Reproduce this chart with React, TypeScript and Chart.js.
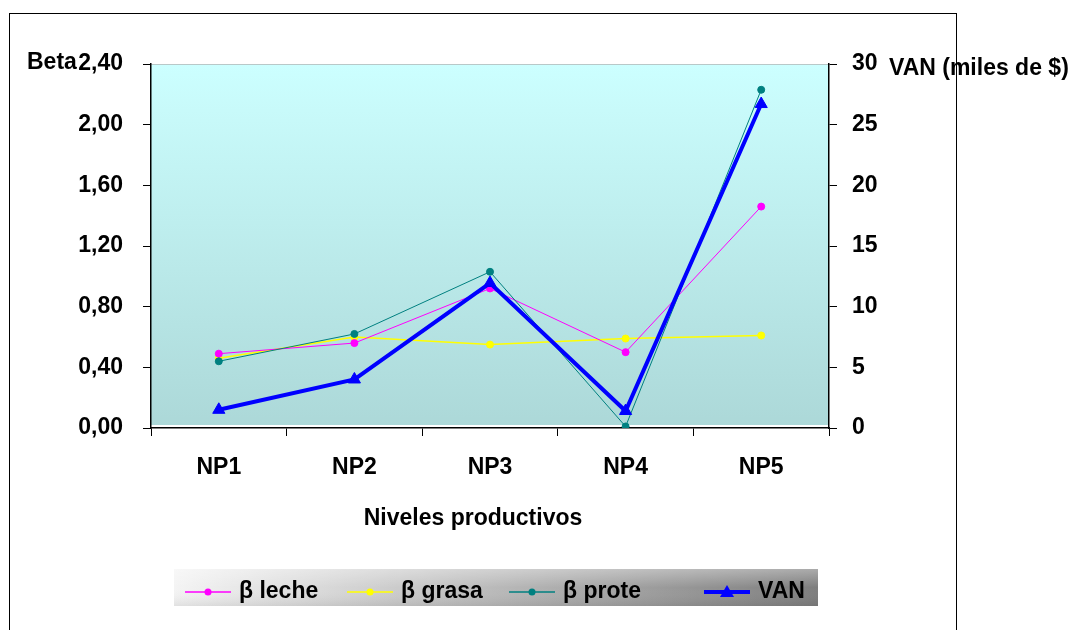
import React, { useEffect, useRef } from "react";
import { Chart, registerables } from "chart.js";

Chart.register(...registerables);

// ---- data ----
const categories = ["NP1", "NP2", "NP3", "NP4", "NP5"];
const betaLeche = [0.49, 0.56, 0.92, 0.5, 1.46];
const betaGrasa = [0.46, 0.6, 0.55, 0.59, 0.61];
const betaProte = [0.44, 0.62, 1.03, 0.01, 2.23];
const vanValues = [1.5, 4.0, 11.95, 1.4, 26.7];
const seriesLabels = ["β leche", "β grasa", "β prote", "VAN"];
const betaTicks = [0, 0.4, 0.8, 1.2, 1.6, 2.0, 2.4];
const vanTicks = [0, 5, 10, 15, 20, 25, 30];
const leftTitle = "Beta";
const rightTitle = "VAN (miles de $)";
const xTitle = "Niveles productivos";

const FONT = "'Liberation Sans', Arial, sans-serif";
const FS = 23;

// legend layout (positions only)
const legendLineStart = [185, 347, 509, 704];

const decorPlugin = {
  id: "decor",
  beforeDraw(chart: any) {
    const { ctx, chartArea } = chart;
    const { left, top, right, bottom } = chartArea;
    ctx.save();
    // white page
    ctx.fillStyle = "#ffffff";
    ctx.fillRect(0, 0, chart.width, chart.height);
    // outer border
    ctx.strokeStyle = "#000000";
    ctx.lineWidth = 1;
    ctx.strokeRect(9.5, 13.5, 947, 640);
    // plot gradient
    const g = ctx.createLinearGradient(0, top, 0, bottom);
    g.addColorStop(0, "#ccffff");
    g.addColorStop(1, "#acd8d8");
    ctx.fillStyle = g;
    ctx.fillRect(left, top, right - left, bottom - top);
    ctx.strokeStyle = "#b8c8c8";
    ctx.beginPath();
    ctx.moveTo(left, top + 0.5);
    ctx.lineTo(right, top + 0.5);
    ctx.stroke();
    ctx.strokeStyle = "#ffffff";
    ctx.lineWidth = 2;
    ctx.beginPath();
    ctx.moveTo(left, bottom - 2);
    ctx.lineTo(right, bottom - 2);
    ctx.stroke();
    ctx.restore();
  },
  afterDraw(chart: any) {
    const { ctx, chartArea } = chart;
    ctx.save();
    ctx.fillStyle = "#000000";
    ctx.font = `bold ${FS}px ${FONT}`;
    ctx.textBaseline = "middle";
    // axis titles
    ctx.textAlign = "left";
    ctx.fillText(leftTitle, 27, chartArea.top - 1);
    ctx.fillText(rightTitle, 889, chartArea.top + 5);
    ctx.textAlign = "center";
    ctx.fillText(xTitle, 473, 519);

    // legend box
    const bx = 174, by = 569, bw = 644, bh = 37;
    const lg = ctx.createLinearGradient(bx, 0, bx + bw, 0);
    lg.addColorStop(0, "#f4f4f4");
    lg.addColorStop(1, "#7e7e7e");
    ctx.fillStyle = lg;
    ctx.fillRect(bx, by, bw, bh);
    const vg = ctx.createLinearGradient(0, by, 0, by + bh);
    vg.addColorStop(0, "rgba(255,255,255,0.35)");
    vg.addColorStop(0.5, "rgba(255,255,255,0)");
    vg.addColorStop(1, "rgba(0,0,0,0.08)");
    ctx.fillStyle = vg;
    ctx.fillRect(bx, by, bw, bh);

    const ly = 592;
    chart.data.datasets.forEach((ds: any, i: number) => {
      const x0 = legendLineStart[i];
      ctx.strokeStyle = ds.borderColor;
      ctx.lineWidth = ds.borderWidth === 1 ? 1.5 : ds.borderWidth;
      ctx.beginPath();
      ctx.moveTo(x0, ly);
      ctx.lineTo(x0 + 46, ly);
      ctx.stroke();
      ctx.fillStyle = ds.borderColor;
      const cx = x0 + 23;
      if (ds.pointStyle === "triangle") {
        ctx.beginPath();
        ctx.moveTo(cx, ly - 7);
        ctx.lineTo(cx + 7, ly + 5);
        ctx.lineTo(cx - 7, ly + 5);
        ctx.closePath();
        ctx.fill();
      } else {
        ctx.beginPath();
        ctx.arc(cx, ly, 3.5, 0, Math.PI * 2);
        ctx.fill();
      }
      ctx.fillStyle = "#000000";
      ctx.textAlign = "left";
      ctx.fillText(ds.label, x0 + 54, ly);
    });
    ctx.restore();
  },
};

const fmtBeta = (v: number) => v.toFixed(2).replace(".", ",");

export default function App() {
  const ref = useRef<HTMLCanvasElement | null>(null);
  useEffect(() => {
    if (!ref.current) return;
    const tickFont = { family: FONT, size: FS, weight: "bold" as const };
    const chart = new Chart(ref.current, {
      type: "line",
      data: {
        labels: categories,
        datasets: [
          {
            label: seriesLabels[0],
            data: betaLeche,
            borderColor: "#ff00ff",
            backgroundColor: "#ff00ff",
            borderWidth: 1,
            pointRadius: 3.5,
            pointStyle: "circle",
            pointBorderWidth: 1,
            yAxisID: "y",
            order: 3,
          },
          {
            label: seriesLabels[1],
            data: betaGrasa,
            borderColor: "#ffff00",
            backgroundColor: "#ffff00",
            borderWidth: 1.5,
            pointRadius: 3.5,
            pointStyle: "circle",
            pointBorderWidth: 1,
            yAxisID: "y",
            order: 4,
          },
          {
            label: seriesLabels[2],
            data: betaProte,
            borderColor: "#008080",
            backgroundColor: "#008080",
            borderWidth: 1,
            pointRadius: 3.5,
            pointStyle: "circle",
            pointBorderWidth: 1,
            yAxisID: "y",
            order: 2,
          },
          {
            label: seriesLabels[3],
            data: vanValues,
            borderColor: "#0000ff",
            backgroundColor: "#0000ff",
            borderWidth: 4,
            pointRadius: 7,
            pointStyle: "triangle",
            pointBorderWidth: 1,
            yAxisID: "y1",
            order: 1,
          },
        ],
      },
      options: {
        responsive: false,
        animation: false,
        layout: { padding: { top: 64, left: 0, right: 0, bottom: 0 } },
        plugins: { legend: { display: false }, tooltip: { enabled: false } },
        scales: {
          x: {
            type: "category",
            offset: true,
            grid: { offset: true, drawOnChartArea: false, drawTicks: true, tickLength: 8, color: "#000" },
            border: { display: true, color: "#000", width: 1.5 },
            ticks: { font: tickFont, color: "#000", padding: 18, maxRotation: 0 },
            afterFit: (s: any) => { s.height = 202; },
          },
          y: {
            position: "left",
            min: 0,
            max: 2.4,
            afterBuildTicks: (s: any) => { s.ticks = betaTicks.map((v) => ({ value: v })); },
            grid: { drawOnChartArea: false, drawTicks: true, tickLength: 8, color: "#000" },
            border: { display: true, color: "#000", width: 1.5 },
            ticks: { font: tickFont, color: "#000", padding: 20, callback: (v: any) => fmtBeta(Number(v)) },
            afterFit: (s: any) => { s.width = 151; },
          },
          y1: {
            position: "right",
            min: 0,
            max: 30,
            afterBuildTicks: (s: any) => { s.ticks = vanTicks.map((v) => ({ value: v })); },
            grid: { drawOnChartArea: false, drawTicks: true, tickLength: 8, color: "#000" },
            border: { display: true, color: "#000", width: 1.5 },
            ticks: { font: tickFont, color: "#000", padding: 15, callback: (v: any) => String(v) },
            afterFit: (s: any) => { s.width = 251; },
          },
        },
      },
      plugins: [decorPlugin],
    });
    return () => chart.destroy();
  }, []);
  return (
    <div style={{ position: "absolute", left: 0, top: 0, width: 1080, height: 630 }}>
      <canvas ref={ref} width={1080} height={630} style={{ width: 1080, height: 630, display: "block" }} />
    </div>
  );
}
